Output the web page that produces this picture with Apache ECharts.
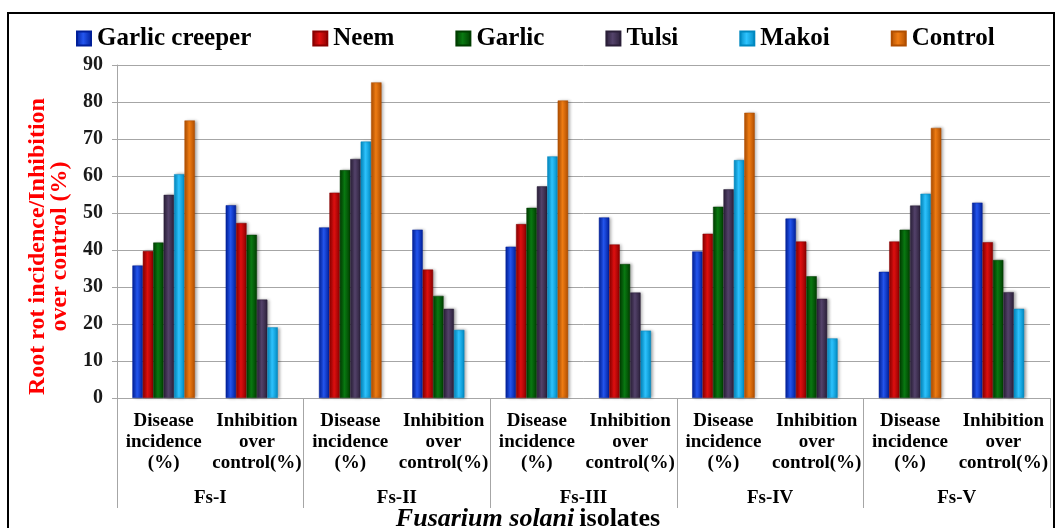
<!DOCTYPE html>
<html>
<head>
<meta charset="utf-8">
<script src="https://cdn.jsdelivr.net/npm/echarts@6/dist/echarts.min.js"></script>
<style>
  html, body { margin: 0; padding: 0; background: #fff; }
  #chart { width: 1056px; height: 528px; }
</style>
</head>
<body>
<div id="chart"></div>
<script>
// ---- data ----
const categories = [
  'Disease\nincidence\n(%)', 'Inhibition\nover\ncontrol(%)',
  'Disease\nincidence\n(%)', 'Inhibition\nover\ncontrol(%)',
  'Disease\nincidence\n(%)', 'Inhibition\nover\ncontrol(%)',
  'Disease\nincidence\n(%)', 'Inhibition\nover\ncontrol(%)',
  'Disease\nincidence\n(%)', 'Inhibition\nover\ncontrol(%)'
];
const isolates = ['Fs-I', 'Fs-II', 'Fs-III', 'Fs-IV', 'Fs-V'];
const seriesNames = ['Garlic creeper', 'Neem', 'Garlic', 'Tulsi', 'Makoi', 'Control'];
const garlicCreeper = [35.8, 52.1, 46.1, 45.5, 40.9, 48.8, 39.6, 48.5, 34.1, 52.8];
const neem          = [39.7, 47.3, 55.5, 34.7, 47.0, 41.5, 44.4, 42.3, 42.3, 42.1];
const garlic        = [42.0, 44.1, 61.6, 27.6, 51.4, 36.2, 51.7, 32.9, 45.5, 37.3];
const tulsi         = [54.9, 26.6, 64.6, 24.1, 57.2, 28.5, 56.4, 26.8, 52.0, 28.6];
const makoi         = [60.5, 19.1, 69.3, 18.4, 65.3, 18.2, 64.3, 16.1, 55.2, 24.1];
const control       = [75.0, null, 85.3, null, 80.4, null, 77.1, null, 73.0, null];
const yTicks = { min: 0, max: 90, interval: 10 };

// ---- styles ----
const palette = [
  ['#001f99', '#2456f0'],
  ['#8a0000', '#e01010'],
  ['#003d00', '#0a7a12'],
  ['#2a1f38', '#54436b'],
  ['#0088c0', '#2ec4ff'],
  ['#b04e00', '#f07d14']
];
function grad(c) {
  return new echarts.graphic.LinearGradient(0, 0, 1, 0, [
    { offset: 0, color: c[0] },
    { offset: 0.45, color: c[1] },
    { offset: 1, color: c[0] }
  ]);
}
const values = [garlicCreeper, neem, garlic, tulsi, makoi, control];
const FONT = '"Liberation Serif", "Times New Roman", serif';

const chart = echarts.init(document.getElementById('chart'));
chart.setOption({
  animation: false,
  backgroundColor: '#fff',
  graphic: [{
    type: 'rect', z: 100, silent: true,
    shape: { x: 8, y: 13, width: 1046, height: 540 },
    style: { fill: 'none', stroke: '#000', lineWidth: 2 }
  }],
  title: {
    text: '{i|Fusarium solani} {n|isolates}',
    left: 'center', top: 501,
    textStyle: {
      rich: {
        i: { fontFamily: FONT, fontSize: 26, fontWeight: 'bold', fontStyle: 'italic', color: '#000' },
        n: { fontFamily: FONT, fontSize: 26, fontWeight: 'bold', color: '#000' }
      }
    }
  },
  legend: {
    top: 21, left: 71,
    itemWidth: 14, itemHeight: 14, itemGap: 61, icon: 'rect',
    textStyle: { fontFamily: FONT, fontSize: 25, fontWeight: 'bold', color: '#000', padding: [0, 0, 0, 1] },
    data: seriesNames
  },
  grid: { left: 117, right: 6, top: 65, bottom: 130 },
  xAxis: [{
    type: 'category',
    data: categories,
    axisLine: { show: true, lineStyle: { color: '#a6a6a6' } },
    axisTick: { show: false },
    axisLabel: {
      interval: 0, margin: 13, lineHeight: 21,
      fontFamily: FONT, fontSize: 19, fontWeight: 'bold', color: '#000'
    }
  }, {
    type: 'category',
    data: isolates,
    position: 'bottom',
    axisLine: { show: false },
    axisTick: { show: true, length: 110, interval: 0, lineStyle: { color: '#a6a6a6' } },
    axisLabel: {
      interval: 0, margin: 91,
      fontFamily: FONT, fontSize: 19, fontWeight: 'bold', color: '#000'
    }
  }],
  yAxis: {
    type: 'value',
    min: yTicks.min, max: yTicks.max, interval: yTicks.interval,
    name: 'Root rot incidence/Inhibition\nover control (%)',
    nameLocation: 'middle', nameGap: 42,
    nameTextStyle: {
      fontFamily: FONT, fontSize: 24, fontWeight: 'bold', color: '#ff0000',
      lineHeight: 22, align: 'center', padding: [0, 30, 0, 0]
    },
    axisLine: { show: true, lineStyle: { color: '#a6a6a6' } },
    axisTick: { show: true, length: 5, lineStyle: { color: '#a6a6a6' } },
    axisLabel: { margin: 14, fontFamily: FONT, fontSize: 20, fontWeight: 'bold', color: '#1a1a1a' },
    splitLine: { lineStyle: { color: '#a6a6a6', width: 1 } }
  },
  series: seriesNames.map((name, i) => ({
    name: name,
    type: 'bar',
    data: values[i],
    barGap: '0%',
    barCategoryGap: '33%',
    itemStyle: {
      color: grad(palette[i]),
      borderColor: palette[i][0], borderWidth: 0.5,
      shadowColor: 'rgba(0,0,0,0.35)', shadowBlur: 3, shadowOffsetX: 2, shadowOffsetY: 0
    }
  }))
});
</script>
</body>
</html>
